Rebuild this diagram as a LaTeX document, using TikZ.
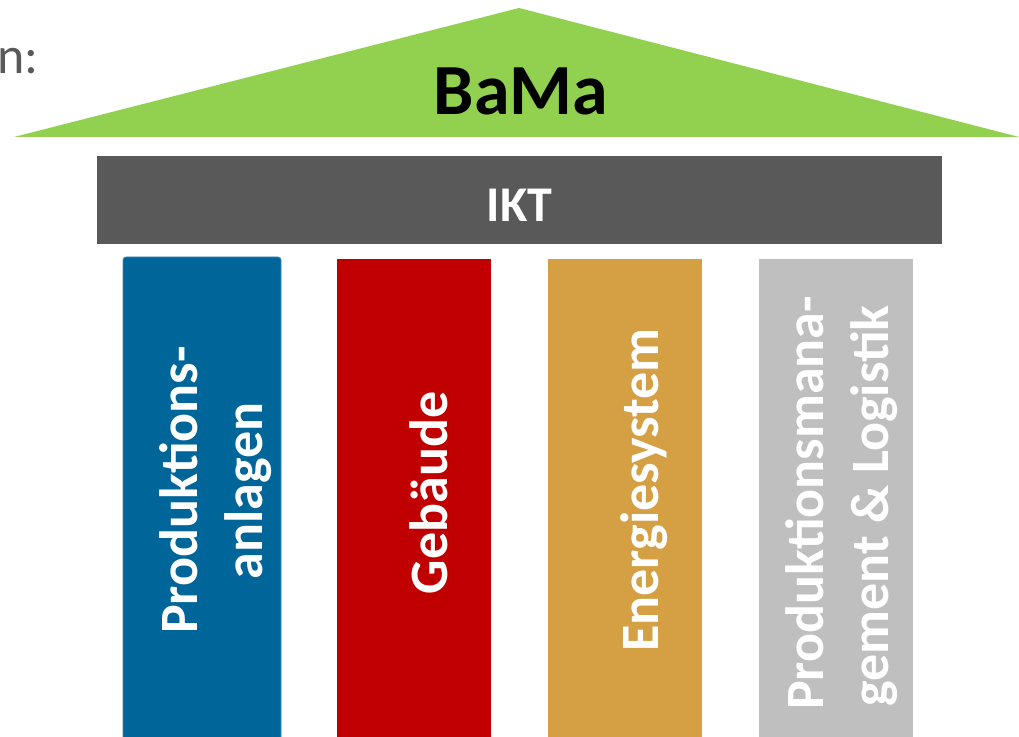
\documentclass[tikz,border=0pt]{standalone}
\usepackage{fontspec}
\setmainfont{Carlito}
\usetikzlibrary{positioning}
\definecolor{roofgreen}{HTML}{92D050}
\definecolor{iktgray}{HTML}{595959}
\definecolor{anlagenblue}{HTML}{006699}
\definecolor{gebred}{HTML}{C00000}
\definecolor{energyorange}{HTML}{D5A044}
\definecolor{logigray}{HTML}{BFBFBF}

\begin{document}
\begin{tikzpicture}[x=0.5pt,y=-0.5pt,
    pillartext/.style={rotate=90,anchor=base,inner sep=0pt,text=white,
        font=\bfseries\fontsize{27}{32}\selectfont}]
\useasboundingbox (0,0) rectangle (1019,737);
% roof
\fill[roofgreen] (14,137) -- (519,8) -- (1019,137) -- cycle;
\node[anchor=base,inner sep=0pt,font=\bfseries\fontsize{36}{43}\selectfont] (bama) at (521,115) {BaMa};
\node[anchor=base west,inner sep=0pt,text=iktgray,font=\fontsize{26}{31}\selectfont] (ebenen) at (-3,74) {n:};
% beam
\fill[iktgray] (97,156) rectangle (942,244);
\node[anchor=base,inner sep=0pt,text=white,font=\bfseries\fontsize{25}{30}\selectfont] (ikt) at (519.5,222) {IKT};
% pillars
\filldraw[fill=anlagenblue,draw=anlagenblue!75!white,line width=0.4pt,rounded corners=1.5pt] (123,257) rectangle (281,740);
\foreach \x/\c in {337/gebred,548/energyorange,759/logigray}
    \fill[\c] (\x,259) rectangle ++(154,481);
\node[pillartext] (anlagen1) at (197,490) {Produktions-};
\node[pillartext] (anlagen2) at (262,491) {anlagen};
\node[pillartext] (gebaeude) at (447,493) {Gebäude};
\node[pillartext] (energie) at (658,490) {Energiesystem};
\node[pillartext] (logistik1) at (823,503) {Produktionsmana-};
\node[pillartext] (logistik2) at (888,506) {gement \& Logistik};
\end{tikzpicture}
\end{document}
